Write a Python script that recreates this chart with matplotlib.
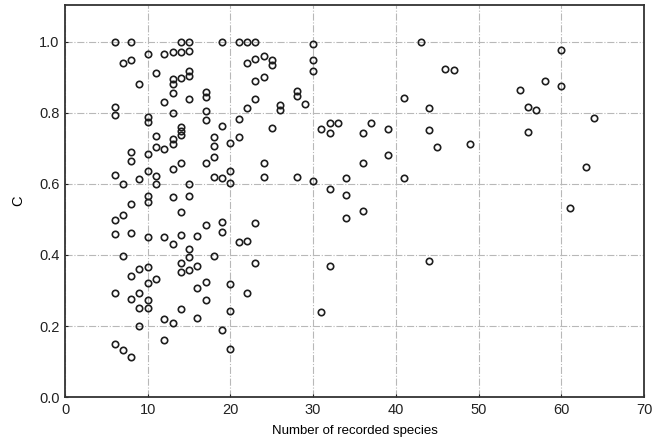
import matplotlib
matplotlib.use("Agg")
import matplotlib.pyplot as plt

plt.rcParams['font.family'] = ['Liberation Sans', 'DejaVu Sans']

# Coefficient C against the number of recorded species, grouped by species count
species_counts = [6, 7, 8, 9, 10, 11, 12, 13, 14, 15, 16, 17, 18, 19, 20, 21, 22, 23,
                  24, 25, 26, 28, 29, 30, 31, 32, 33, 34, 36, 37, 39, 41, 43, 44, 45,
                  46, 47, 49, 55, 56, 57, 58, 60, 61, 63, 64]

c_values = [
    [1.0, 0.818, 0.794, 0.625, 0.499, 0.459, 0.292, 0.149],
    [0.94, 0.599, 0.513, 0.398, 0.132],
    [1.0, 0.95, 0.69, 0.665, 0.544, 0.463, 0.342, 0.276, 0.114],
    [0.882, 0.614, 0.361, 0.294, 0.25, 0.2],
    [0.966, 0.79, 0.775, 0.684, 0.637, 0.566, 0.55, 0.452, 0.365, 0.322, 0.273, 0.25],
    [0.913, 0.735, 0.705, 0.623, 0.599, 0.331],
    [0.966, 0.832, 0.698, 0.452, 0.221, 0.161],
    [0.972, 0.895, 0.882, 0.855, 0.799, 0.726, 0.713, 0.642, 0.564, 0.431, 0.208],
    [1.0, 0.973, 0.898, 0.761, 0.749, 0.738, 0.658, 0.520, 0.456, 0.377, 0.353, 0.247],
    [1.0, 0.975, 0.918, 0.905, 0.839, 0.599, 0.566, 0.416, 0.395, 0.358],
    [0.454, 0.369, 0.308, 0.223],
    [0.86, 0.846, 0.806, 0.780, 0.66, 0.485, 0.325, 0.273],
    [0.733, 0.708, 0.677, 0.619, 0.398],
    [1.0, 0.763, 0.616, 0.494, 0.466, 0.189],
    [0.716, 0.637, 0.604, 0.317, 0.243, 0.135],
    [1.0, 0.782, 0.733, 0.437],
    [1.0, 0.94, 0.813, 0.44, 0.292],
    [1.0, 0.952, 0.89, 0.839, 0.491, 0.377],
    [0.961, 0.901, 0.66, 0.619],
    [0.949, 0.935, 0.757],
    [0.822, 0.808],
    [0.863, 0.848, 0.619],
    [0.825],
    [0.993, 0.949, 0.918, 0.608],
    [0.755, 0.24],
    [0.773, 0.743, 0.585, 0.37],
    [0.773],
    [0.616, 0.569, 0.505],
    [0.743, 0.66, 0.525],
    [0.771],
    [0.754, 0.682],
    [0.843, 0.616],
    [1.0],
    [0.815, 0.752, 0.383],
    [0.703],
    [0.923],
    [0.921],
    [0.713],
    [0.865],
    [0.816, 0.746],
    [0.808],
    [0.89],
    [0.977, 0.876],
    [0.533],
    [0.649],
    [0.787],
]

x_ticks = [0, 10, 20, 30, 40, 50, 60, 70]
y_ticks = [0.0, 0.2, 0.4, 0.6, 0.8, 1.0]

xs, ys = [], []
for n, vals in zip(species_counts, c_values):
    for v in vals:
        xs.append(n)
        ys.append(v)

fig = plt.figure(figsize=(6.54, 4.48), dpi=100)
ax = fig.add_axes([0.0994, 0.1138, 0.8853, 0.875])

ax.plot(xs, ys, linestyle='none', marker='o', markersize=4.6,
        markerfacecolor='none', markeredgecolor='#1e1e1e', markeredgewidth=1.2,
        zorder=3)

ax.set_xlim(0, 70)
ax.set_ylim(0, 1.104)
ax.set_xticks(x_ticks)
ax.set_yticks(y_ticks)
ax.set_xticklabels([str(t) for t in x_ticks], fontsize=10.5)
ax.set_yticklabels([f"{t:.1f}" for t in y_ticks], fontsize=10.5)
ax.tick_params(direction='in', length=2, width=0.8, pad=4, colors='#222222')

ax.grid(True, linestyle='-.', linewidth=0.8, color='#b8b8b8', zorder=0)

for sp in ax.spines.values():
    sp.set_linewidth(1.3)
    sp.set_color('#333333')

ax.set_xlabel('Number of recorded species', fontsize=9.5, labelpad=6)
ax.set_ylabel('C', fontsize=10.5, labelpad=10)

fig.savefig('out.png', dpi=100)
